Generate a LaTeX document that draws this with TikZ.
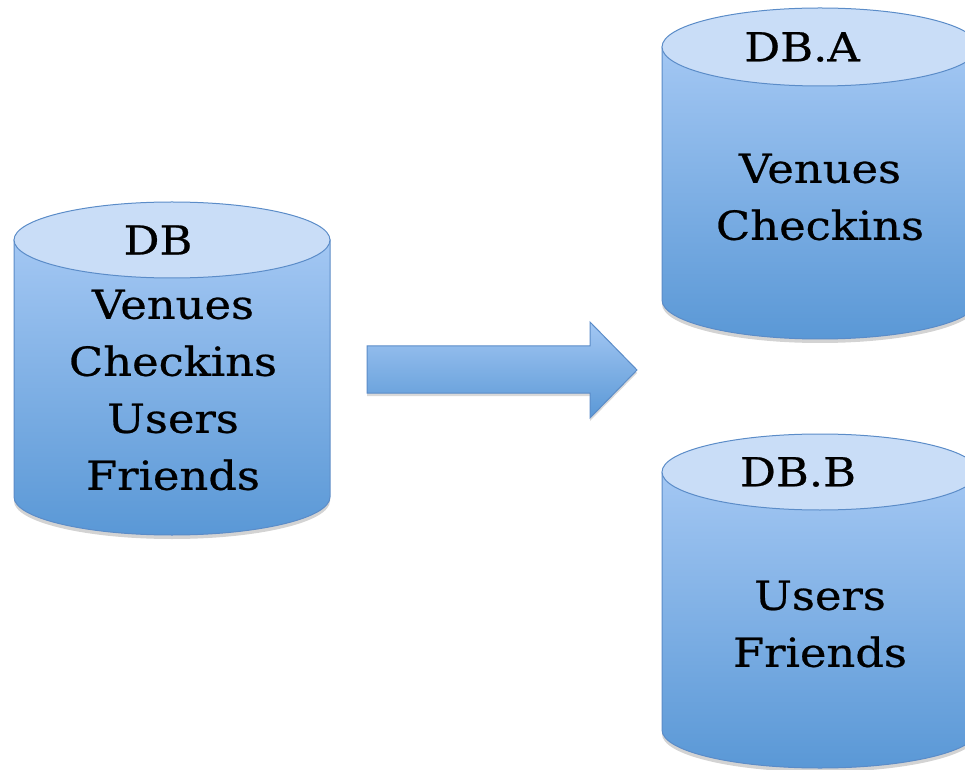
\documentclass[tikz,border=0pt]{standalone}
\usepackage{fontspec}
\setmainfont[FakeStretch=1.12, FakeBold=0.6]{DejaVu Serif}
\usetikzlibrary{shadows}
\definecolor{topfill}{HTML}{C9DDF7}
\definecolor{bodytop}{HTML}{A3C7F3}
\definecolor{bodybot}{HTML}{5A98D6}
\definecolor{edge}{HTML}{5B8CC8}
\tikzset{
  dbbody/.style={top color=bodytop, bottom color=bodybot, draw=edge, line width=1pt,
    drop shadow={opacity=0.35, shadow xshift=0pt, shadow yshift=-4pt}},
  dbcap/.style={fill=topfill, draw=edge, line width=1pt},
  lbl/.style={font=\fontsize{40}{57}\selectfont, align=center, text=black, inner sep=0pt},
}
\newcommand{\dbcyl}[4]{% cx, ytop, ybot, ry
  \path[dbbody] (#1-158,#2) -- (#1-158,#3)
     arc[start angle=180, end angle=360, x radius=158pt, y radius=#4pt]
     -- (#1+158,#2) -- cycle;
  \path[dbcap] (#1,#2) ellipse[x radius=158pt, y radius=#4pt];
}
\begin{document}
\begin{tikzpicture}[x=1pt,y=1pt]
\useasboundingbox (0,0) rectangle (965,769);
\clip (0,0) rectangle (965,769);
\dbcyl{172}{529}{272}{38}
\dbcyl{820}{722}{469}{39}
\dbcyl{820}{297}{39}{38}
\node[lbl] (db) at (158,529) {DB};
\node[lbl] (dbtxt) at (173,379) {Venues\\Checkins\\Users\\Friends};
\node[lbl] (dba) at (802,722) {DB.A};
\node[lbl] (dbatxt) at (820,572) {Venues\\Checkins};
\node[lbl] (dbb) at (798,297) {DB.B};
\node[lbl] (dbbtxt) at (820,145) {Users\\Friends};
\path[top color=bodytop, bottom color=bodybot, draw=edge, line width=1pt,
      drop shadow={opacity=0.3, shadow xshift=0pt, shadow yshift=-3pt}]
  (367,423) -- (590,423) -- (590,447) -- (637,399) -- (590,351) -- (590,376) -- (367,376) -- cycle;
\end{tikzpicture}
\end{document}
